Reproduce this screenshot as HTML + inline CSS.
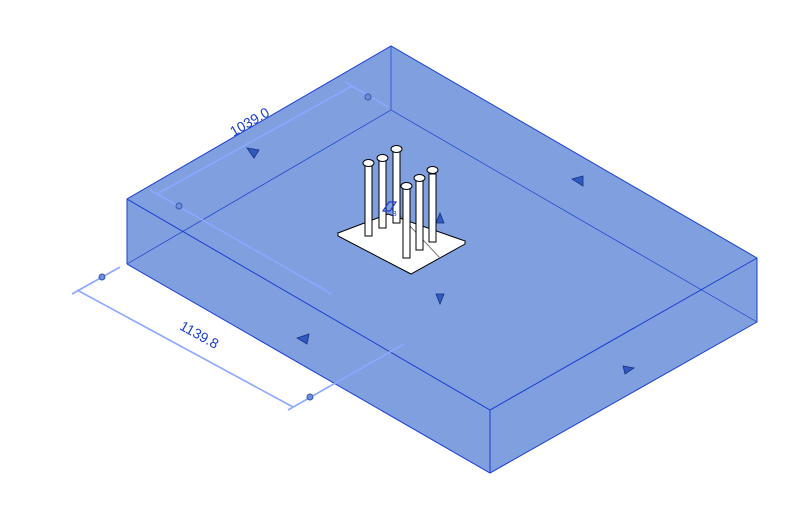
<!DOCTYPE html>
<html><head><style>body{margin:0;background:#fff}svg{display:block}</style></head><body>
<svg width="807" height="514" viewBox="0 0 807 514" xmlns="http://www.w3.org/2000/svg">
<polygon points="127,199 391,46 757,258 757,322 490,473 127,264" fill="#7f9fdf"/>
<g stroke="#1a3fcf" stroke-width="1" fill="none">
<polyline points="127,264 127,199 391,46 757,258 757,322 490,473 127,264"/>
<polyline points="127,199 490,410 757,258"/>
<line x1="490" y1="410" x2="490" y2="473"/>
<polyline points="127,264 391,110 757,322" stroke-width="0.7"/>
<line x1="391" y1="46" x2="391" y2="110" stroke-width="0.7"/>
</g>
<g stroke="#8aa8ff" stroke-width="1.6" fill="none">
<line x1="157" y1="194" x2="352" y2="86"/>
<line x1="150" y1="190" x2="332" y2="294"/>
<line x1="345" y1="82" x2="388" y2="107"/>
<line x1="77" y1="290" x2="293" y2="407"/>
<line x1="72" y1="294" x2="120" y2="267"/>
<line x1="288" y1="410" x2="404" y2="344"/>
</g>
<g fill="#6a8ee0" stroke="#3a5aa0" stroke-width="1">
<circle cx="368" cy="97" r="3"/><circle cx="179" cy="206" r="3"/>
<circle cx="102" cy="277" r="3"/><circle cx="310" cy="397" r="3"/>
</g>
<text x="0" y="0" transform="translate(252,126) rotate(-30)" font-family="Liberation Sans,sans-serif" font-size="14" fill="#1a3fcf" text-anchor="middle">1039.0</text>
<text x="0" y="0" transform="translate(197,339) rotate(29)" font-family="Liberation Sans,sans-serif" font-size="14" fill="#1a3fcf" text-anchor="middle">1139.8</text>
<g fill="#2f5bc0" stroke="#1a3080" stroke-width="0.8">
<polygon points="247,148 259,150 254,158"/>
<polygon points="297,338 309,334 307,344"/>
<polygon points="572,179 583,176 583,186"/>
<polygon points="436,294 444,294 440,304"/>
<polygon points="623,366 634,368 625,374"/>
<polygon points="436,223 444,223 440,213"/>
</g>
<polygon points="338,233 388,214 465,241 411,271" fill="#fff" stroke="#000" stroke-width="1"/>
<polyline points="338,233 338,236 411,274 465,244 465,241" fill="#fff" stroke="#000" stroke-width="1"/>
<line x1="395" y1="210" x2="440" y2="258" stroke="#777" stroke-width="1"/>
<g stroke="#000" stroke-width="1" fill="#fff">
<rect x="365" y="162" width="7" height="74"/>
<rect x="379" y="158" width="7" height="70"/>
<rect x="393" y="150" width="7" height="73"/>
<rect x="403" y="188" width="7" height="70"/>
<rect x="416" y="181" width="7" height="69"/>
<rect x="429" y="174" width="7" height="68"/>
<ellipse cx="368.5" cy="163" rx="5.5" ry="3.5"/>
<ellipse cx="382.5" cy="158" rx="5.5" ry="3.5"/>
<ellipse cx="396.5" cy="149" rx="5.5" ry="3.5"/>
<ellipse cx="406.5" cy="186" rx="5.5" ry="3.5"/>
<ellipse cx="419.5" cy="178" rx="5.5" ry="3.5"/>
<ellipse cx="432.5" cy="170" rx="5.5" ry="3.5"/>
</g>
<polygon points="383,211 389,202 396,202 390,211" fill="none" stroke="#1a3fcf" stroke-width="1.2"/>
<text x="392" y="216" font-family="Liberation Sans,sans-serif" font-size="7" fill="#1a3fcf">B</text>
</svg>
</body></html>
